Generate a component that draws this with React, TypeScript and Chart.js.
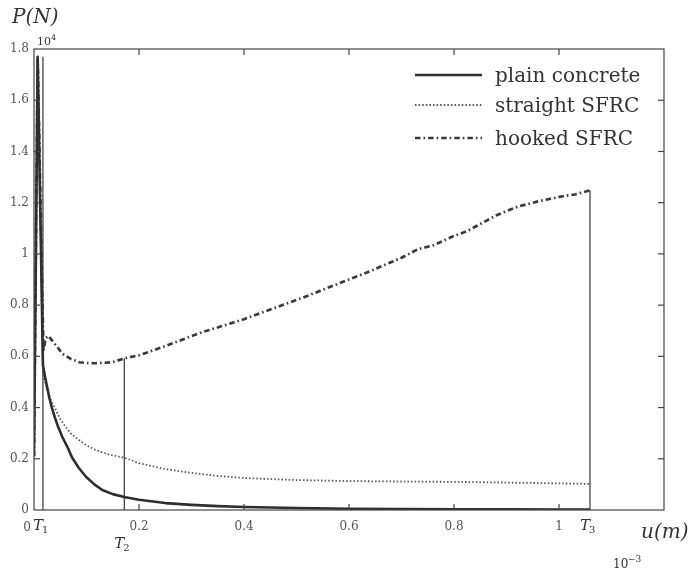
import React, { useEffect, useRef } from "react";
import { Chart, registerables } from "chart.js";

Chart.register(...registerables);

// ---- data (u in 1e-3 m, P in 1e4 N) ----
const plainU = [0, 0.007, 0.017, 0.021, 0.025, 0.029, 0.034, 0.04, 0.045, 0.054, 0.065, 0.072, 0.085, 0.099, 0.115, 0.13, 0.15, 0.174, 0.2, 0.25, 0.3, 0.35, 0.4, 0.5, 0.6, 0.7, 0.8, 0.9, 1.0, 1.059];
const plainP = [0.21, 1.77, 0.565, 0.52, 0.48, 0.44, 0.4, 0.36, 0.33, 0.285, 0.24, 0.207, 0.165, 0.13, 0.1, 0.078, 0.062, 0.05, 0.04, 0.027, 0.02, 0.015, 0.012, 0.008, 0.005, 0.004, 0.003, 0.003, 0.002, 0.002];

const straightU = [0, 0.007, 0.017, 0.021, 0.025, 0.034, 0.042, 0.05, 0.06, 0.072, 0.086, 0.1, 0.118, 0.14, 0.174, 0.2, 0.25, 0.3, 0.35, 0.4, 0.5, 0.6, 0.7, 0.8, 0.9, 1.0, 1.059];
const straightP = [0.21, 1.76, 0.53, 0.5, 0.47, 0.42, 0.39, 0.355, 0.325, 0.295, 0.273, 0.252, 0.234, 0.218, 0.203, 0.183, 0.16, 0.145, 0.133, 0.125, 0.117, 0.113, 0.111, 0.11, 0.107, 0.104, 0.102];

const hookedU = [0, 0.007, 0.018, 0.022, 0.027, 0.035, 0.045, 0.054, 0.07, 0.086, 0.1, 0.118, 0.135, 0.149, 0.174, 0.2, 0.25, 0.317, 0.4, 0.508, 0.6, 0.635, 0.7, 0.731, 0.76, 0.8, 0.826, 0.88, 0.922, 0.96, 1.004, 1.03, 1.059];
const hookedP = [0.21, 1.76, 0.62, 0.67, 0.68, 0.66, 0.635, 0.61, 0.59, 0.577, 0.574, 0.573, 0.575, 0.577, 0.593, 0.604, 0.64, 0.692, 0.745, 0.826, 0.9, 0.928, 0.985, 1.018, 1.033, 1.07, 1.09, 1.15, 1.185, 1.205, 1.224, 1.232, 1.248];

const markerU = [0.017, 0.172, 1.059];
const markerTop = [1.77, 0.593, 1.248];
const markerNames = ["1", "2", "3"];

const xTickValues = [0, 0.2, 0.4, 0.6, 0.8, 1.0, 1.2];
const yTickValues = [0, 0.2, 0.4, 0.6, 0.8, 1.0, 1.2, 1.4, 1.6, 1.8];
const seriesNames = ["plain concrete", "straight SFRC", "hooked SFRC"];

const SERIF = "'DejaVu Serif', 'Liberation Serif', serif";
const INK = "#333";

const seriesStyles = [
  { color: "#2e2e2e", width: 2.6, dash: [] as number[] },
  { color: "#555", width: 1.8, dash: [1.5, 2.1] },
  { color: "#3a3a3a", width: 2.7, dash: [5.5, 3, 1.6, 3] },
];

const fmt = (v: number) => String(Number(v.toFixed(1)));

const decor = {
  id: "decor",
  afterDatasetsDraw(chart: any) {
    const { ctx, chartArea: a, scales } = chart;
    const xs = scales.x;
    const ys = scales.y;
    ctx.save();
    ctx.strokeStyle = "#444";
    ctx.lineWidth = 1.2;
    ctx.setLineDash([]);
    ctx.strokeRect(a.left, a.top, a.right - a.left, a.bottom - a.top);
    const tl = 6;
    const seg = (x1: number, y1: number, x2: number, y2: number) => {
      ctx.beginPath();
      ctx.moveTo(x1, y1);
      ctx.lineTo(x2, y2);
      ctx.stroke();
    };
    xs.ticks.forEach((t: any) => {
      const px = xs.getPixelForValue(t.value);
      if (px <= a.left + 1 || px >= a.right - 1) return;
      seg(px, a.bottom, px, a.bottom - tl);
      seg(px, a.top, px, a.top + tl);
    });
    ys.ticks.forEach((t: any) => {
      const py = ys.getPixelForValue(t.value);
      if (py <= a.top + 1 || py >= a.bottom - 1) return;
      seg(a.left, py, a.left + tl, py);
      seg(a.right, py, a.right - tl, py);
    });

    // x-axis origin label, set a little to the left as in the original
    ctx.fillStyle = "#555";
    ctx.font = `12px ${SERIF}`;
    ctx.textAlign = "right";
    ctx.textBaseline = "alphabetic";
    ctx.fillText(fmt(xTickValues[0]), a.left - 3, 531);

    // legend
    const lx1 = 415, lx2 = 482, tx = 495;
    const rows = [75, 105, 138];
    seriesNames.forEach((name, i) => {
      const st = seriesStyles[i];
      ctx.strokeStyle = st.color;
      ctx.lineWidth = st.width;
      ctx.setLineDash(st.dash);
      seg(lx1, rows[i], lx2, rows[i]);
      ctx.setLineDash([]);
      ctx.fillStyle = INK;
      ctx.font = `20px ${SERIF}`;
      ctx.textAlign = "left";
      ctx.textBaseline = "alphabetic";
      ctx.fillText(name, tx, rows[i] + 7);
    });

    // marker labels T1, T2, T3
    markerU.forEach((u, i) => {
      const px = xs.getPixelForValue(u);
      const base = i === 1 ? 548 : 530;
      ctx.fillStyle = INK;
      ctx.font = `italic 15px ${SERIF}`;
      ctx.textAlign = "left";
      ctx.fillText("T", px - 10, base);
      ctx.font = `10px ${SERIF}`;
      ctx.fillText(markerNames[i], px - 1, base + 3);
    });

    // axis titles & multipliers
    ctx.fillStyle = INK;
    ctx.textAlign = "left";
    ctx.font = `italic 20px ${SERIF}`;
    ctx.fillText("P(N)", 12, 23);
    ctx.fillText("u(m)", 641, 538);
    ctx.font = `11px ${SERIF}`;
    ctx.fillText("10", 37, 45);
    ctx.font = `8px ${SERIF}`;
    ctx.fillText("4", 51, 40);
    ctx.font = `12px ${SERIF}`;
    ctx.fillText("10", 613, 568);
    ctx.font = `9px ${SERIF}`;
    ctx.fillText("\u22123", 628, 562);
    ctx.restore();
  },
};

export default function App() {
  const ref = useRef<HTMLCanvasElement | null>(null);
  useEffect(() => {
    if (!ref.current) return;
    const toPts = (u: number[], p: number[]) => u.map((v, i) => ({ x: v, y: p[i] }));
    const main = [toPts(plainU, plainP), toPts(straightU, straightP), toPts(hookedU, hookedP)];
    const datasets: any[] = main.map((data, i) => ({
      label: seriesNames[i],
      data,
      borderColor: seriesStyles[i].color,
      borderWidth: seriesStyles[i].width,
      borderDash: seriesStyles[i].dash,
      borderJoinStyle: "round",
      pointRadius: 0,
      tension: 0,
      fill: false,
    }));
    markerU.forEach((u, i) => {
      datasets.push({
        label: "T" + markerNames[i],
        data: [{ x: u, y: 0 }, { x: u, y: markerTop[i] }],
        borderColor: "#444",
        borderWidth: 1.3,
        pointRadius: 0,
        fill: false,
      });
    });
    const tickFont = { family: SERIF, size: 12 };
    const chart = new Chart(ref.current, {
      type: "line",
      data: { datasets },
      options: {
        responsive: false,
        animation: false,
        devicePixelRatio: 1,
        layout: { padding: { left: 0, top: 49, right: 27, bottom: 0 } },
        plugins: { legend: { display: false }, tooltip: { enabled: false } },
        scales: {
          x: {
            type: "linear",
            min: 0,
            max: 1.2,
            afterBuildTicks: (s: any) => {
              s.ticks = xTickValues.map((v) => ({ value: v }));
            },
            afterFit: (s: any) => {
              s.height = 64;
            },
            grid: { display: false, drawTicks: false },
            border: { display: false },
            ticks: {
              padding: 10,
              color: "#555",
              font: tickFont,
              maxRotation: 0,
              autoSkip: false,
              callback: (v: any) => (Math.abs(v - 1.2) < 1e-9 || Math.abs(v) < 1e-9 ? "" : fmt(v)),
            },
          },
          y: {
            type: "linear",
            min: 0,
            max: 1.8,
            afterBuildTicks: (s: any) => {
              s.ticks = yTickValues.map((v) => ({ value: v }));
            },
            afterFit: (s: any) => {
              s.width = 34;
            },
            grid: { display: false, drawTicks: false },
            border: { display: false },
            ticks: {
              padding: 5,
              color: "#555",
              font: tickFont,
              autoSkip: false,
              callback: (v: any) => fmt(v),
            },
          },
        },
      },
      plugins: [decor],
    });
    return () => chart.destroy();
  }, []);
  return (
    <div style={{ position: "absolute", left: 0, top: 0, width: 691, height: 574, background: "#fff" }}>
      <canvas ref={ref} width={691} height={574} style={{ display: "block", width: 691, height: 574 }} />
    </div>
  );
}
